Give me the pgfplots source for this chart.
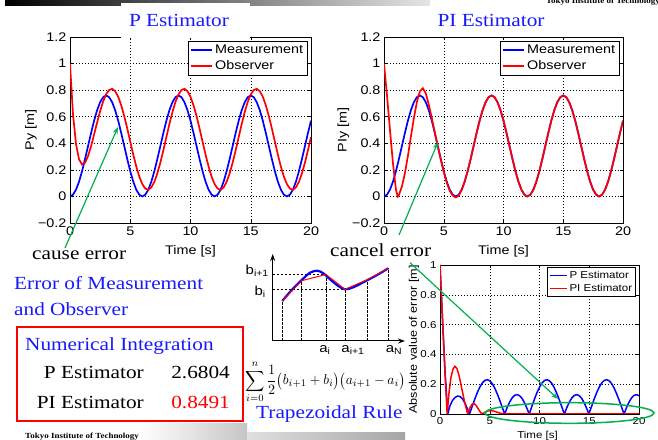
\documentclass[border=0pt]{standalone}
\usepackage{pgfplots}
\pgfplotsset{compat=1.18}
\usepackage{pgfplotstable}
\usepackage{fontspec}
\setmainfont{Liberation Serif}[FakeStretch=1.15]
\setsansfont{Liberation Sans}[FakeStretch=1.15]
\usetikzlibrary{arrows.meta}
\definecolor{mblue}{RGB}{0,0,255}
\definecolor{mred}{RGB}{255,0,0}
\definecolor{agreen}{RGB}{0,176,80}
\definecolor{tblue}{RGB}{25,25,255}
\newcommand{\axf}{\sffamily\fontsize{12.5bp}{13bp}\selectfont}
\newcommand{\axs}{\sffamily\fontsize{10bp}{11bp}\selectfont}
\newcommand{\slf}{\rmfamily\fontsize{18.5bp}{20bp}\selectfont}

\pgfplotstableread{
t m oP
0.00 0.000 1.000
0.25 0.013 0.617
0.50 0.051 0.393
0.75 0.111 0.279
1.00 0.190 0.240
1.25 0.282 0.254
1.50 0.380 0.304
1.75 0.478 0.378
2.00 0.570 0.466
2.25 0.649 0.556
2.50 0.709 0.642
2.75 0.747 0.715
3.00 0.760 0.770
3.25 0.747 0.801
3.50 0.709 0.810
3.75 0.649 0.792
4.00 0.570 0.750
4.25 0.478 0.686
4.50 0.380 0.605
4.75 0.282 0.512
5.00 0.190 0.413
5.25 0.111 0.315
5.50 0.051 0.225
5.75 0.013 0.149
6.00 0.000 0.093
6.25 0.013 0.059
6.50 0.051 0.050
6.75 0.111 0.068
7.00 0.190 0.110
7.25 0.282 0.174
7.50 0.380 0.255
7.75 0.478 0.348
8.00 0.570 0.447
8.25 0.649 0.545
8.50 0.709 0.635
8.75 0.747 0.711
9.00 0.760 0.767
9.25 0.747 0.801
9.50 0.709 0.810
9.75 0.649 0.792
10.00 0.570 0.750
10.25 0.478 0.686
10.50 0.380 0.605
10.75 0.282 0.512
11.00 0.190 0.413
11.25 0.111 0.315
11.50 0.051 0.225
11.75 0.013 0.149
12.00 0.000 0.093
12.25 0.013 0.059
12.50 0.051 0.050
12.75 0.111 0.068
13.00 0.190 0.110
13.25 0.282 0.174
13.50 0.380 0.255
13.75 0.478 0.348
14.00 0.570 0.447
14.25 0.649 0.545
14.50 0.709 0.635
14.75 0.747 0.711
15.00 0.760 0.767
15.25 0.747 0.801
15.50 0.709 0.810
15.75 0.649 0.792
16.00 0.570 0.750
16.25 0.478 0.686
16.50 0.380 0.605
16.75 0.282 0.512
17.00 0.190 0.413
17.25 0.111 0.315
17.50 0.051 0.225
17.75 0.013 0.149
18.00 0.000 0.093
18.25 0.013 0.059
18.50 0.051 0.050
18.75 0.111 0.068
19.00 0.190 0.110
19.25 0.282 0.174
19.50 0.380 0.255
19.75 0.478 0.348
20.00 0.570 0.447
}\tabP

\pgfplotstableread{
t y
0 1.000
0.25 0.760
0.5 0.500
0.75 0.250
1.0 0.050
1.15 0.000
1.25 0.012
1.5 0.075
1.75 0.175
2.0 0.305
2.25 0.450
2.5 0.590
2.75 0.710
3.0 0.790
3.25 0.815
3.5 0.775
3.75 0.690
4.0 0.590
4.25 0.482
4.5 0.378
4.75 0.278
5.0 0.184
5.25 0.104
5.5 0.042
5.75 0.006
6.0 -0.008
6.25 0.006
6.5 0.048
6.75 0.111
7.0 0.190
7.25 0.282
7.5 0.380
7.75 0.478
8.0 0.570
8.25 0.649
8.5 0.709
8.75 0.747
9.0 0.760
9.25 0.747
9.5 0.709
9.75 0.649
10.0 0.570
10.25 0.478
10.5 0.380
10.75 0.282
11.0 0.190
11.25 0.111
11.5 0.051
11.75 0.013
12.0 0.000
12.25 0.013
12.5 0.051
12.75 0.111
13.0 0.190
13.25 0.282
13.5 0.380
13.75 0.478
14.0 0.570
14.25 0.649
14.5 0.709
14.75 0.747
15.0 0.760
15.25 0.747
15.5 0.709
15.75 0.649
16.0 0.570
16.25 0.478
16.5 0.380
16.75 0.282
17.0 0.190
17.25 0.111
17.5 0.051
17.75 0.013
18.0 0.000
18.25 0.013
18.5 0.051
18.75 0.111
19.0 0.190
19.25 0.282
19.5 0.380
19.75 0.478
20.0 0.570
}\tabPI

\pgfplotstableread{
t e
0 1.000
0.25 0.640
0.5 0.290
0.78 0.000
1.0 0.055
1.25 0.090
1.5 0.110
1.75 0.120
2.0 0.118
2.25 0.102
2.5 0.074
2.75 0.036
2.96 0.000
3.0 0.007
3.25 0.054
3.5 0.101
3.75 0.144
4.0 0.180
4.25 0.208
4.5 0.225
4.75 0.230
5.0 0.223
5.25 0.204
5.5 0.174
5.75 0.136
6.0 0.093
6.25 0.046
6.5 0.000
6.75 0.044
7.0 0.080
7.25 0.108
7.5 0.125
7.75 0.130
8.0 0.123
8.25 0.104
8.5 0.074
8.75 0.036
8.96 0.000
9.0 0.007
9.25 0.054
9.5 0.101
9.75 0.144
10.0 0.180
10.25 0.208
10.5 0.225
10.75 0.230
11.0 0.223
11.25 0.204
11.5 0.174
11.75 0.136
12.0 0.093
12.25 0.046
12.5 0.000
12.75 0.044
13.0 0.080
13.25 0.108
13.5 0.125
13.75 0.130
14.0 0.123
14.25 0.104
14.5 0.074
14.75 0.036
14.96 0.000
15.0 0.007
15.25 0.054
15.5 0.101
15.75 0.144
16.0 0.180
16.25 0.208
16.5 0.225
16.75 0.230
17.0 0.223
17.25 0.204
17.5 0.174
17.75 0.136
18.0 0.093
18.25 0.046
18.5 0.000
18.75 0.044
19.0 0.080
19.25 0.108
19.5 0.125
19.75 0.130
20.0 0.123
}\tabEP

\pgfplotstableread{
t e
0 1.000
0.25 0.640
0.5 0.280
0.72 0.000
0.9 0.140
1.1 0.245
1.3 0.300
1.5 0.320
1.7 0.305
1.9 0.262
2.1 0.200
2.3 0.135
2.5 0.072
2.7 0.020
2.8 0.000
3.0 0.040
3.2 0.064
3.4 0.070
3.6 0.060
3.8 0.040
4.0 0.018
4.2 0.000
4.5 0.012
4.8 0.020
5.1 0.023
5.4 0.020
5.7 0.013
6.0 0.006
6.5 0.000
20 0.000
}\tabEPI

\pgfplotsset{
  mstyle/.style={
    scale only axis, xmin=0, xmax=20, clip=true,
    grid=major,
    major grid style={black, line width=0.5bp, dash pattern=on 1bp off 2bp},
    axis line style={black, line width=0.7bp},
    tick align=inside, major tick length=3bp,
    tick style={black, line width=0.5bp},
    xtick={0,5,10,15,20}, xticklabels={0,5,10,15,20},
    legend cell align=left,
  },
}

\begin{document}
\begin{tikzpicture}
\useasboundingbox (0bp,0bp) rectangle (658bp,440bp);
\fill[white] (0bp,0bp) rectangle (658bp,440bp);
\begin{scope}[x=1bp,y=1bp]
\shade[left color=black, right color=gray!20] (5,434) rectangle (430,440);
\node[anchor=base east, font=\rmfamily\bfseries\fontsize{7.8bp}{8bp}\selectfont, inner sep=0] at (660,436) {Tokyo Institute of Technology};
\end{scope}

% ---------- P estimator ----------
\begin{axis}[mstyle, at={(70bp,217bp)}, anchor=south west, width=241bp, height=186bp,
  ymin=-0.2, ymax=1.2, ytick={-0.2,0,0.2,0.4,0.6,0.8,1,1.2},
  yticklabels={−0.2,0,0.2,0.4,0.6,0.8,1,1.2},
  tick label style={font=\axf},
  xlabel={Time [s]}, ylabel={Py [m]},
  label style={font=\axf},
  xlabel style={at={(axis description cs:0.5,-0.15)}, anchor=center},
  ylabel style={at={(axis description cs:-0.162,0.5)}, anchor=center},
  legend image code/.code={\draw[#1] (0bp,0bp) -- (21bp,0bp);},
  legend style={at={(0.985,0.98)}, anchor=north east, draw=black, line width=0.7bp,
    font=\axf, inner sep=2bp, row sep=1.5bp},
  ]
\addplot[mblue, line width=1.7bp] table[x=t, y=m] {\tabP};
\addlegendentry{Measurement}
\addplot[mred, line width=1.7bp] table[x=t, y=oP] {\tabP};
\addlegendentry{Observer}
\end{axis}

% ---------- PI estimator ----------
\begin{axis}[mstyle, at={(384bp,217bp)}, anchor=south west, width=239bp, height=186bp,
  ymin=-0.2, ymax=1.2, ytick={-0.2,0,0.2,0.4,0.6,0.8,1,1.2},
  yticklabels={−0.2,0,0.2,0.4,0.6,0.8,1,1.2},
  tick label style={font=\axf},
  xlabel={Time [s]}, ylabel={PIy [m]},
  label style={font=\axf},
  xlabel style={at={(axis description cs:0.5,-0.15)}, anchor=center},
  ylabel style={at={(axis description cs:-0.17,0.5)}, anchor=center},
  legend image code/.code={\draw[#1] (0bp,0bp) -- (21bp,0bp);},
  legend style={at={(0.985,0.98)}, anchor=north east, draw=black, line width=0.7bp,
    font=\axf, inner sep=2bp, row sep=1.5bp},
  ]
\addplot[mblue, line width=1.7bp] table[x=t, y=m] {\tabP};
\addlegendentry{Measurement}
\addplot[mred, line width=1.7bp] table[x=t, y=y] {\tabPI};
\addlegendentry{Observer}
\end{axis}

% ---------- absolute error ----------
\begin{axis}[mstyle, at={(440bp,26bp)}, anchor=south west, width=199bp, height=149bp,
  ymin=0, ymax=1, ytick={0,0.2,0.4,0.6,0.8,1},
  yticklabels={0,0.2,0.4,0.6,0.8,1},
  tick label style={font=\axs},
  xlabel={Time [s]}, ylabel={Absolute value of error [m]},
  xlabel style={font=\axs, at={(axis description cs:0.49,-0.148)}, anchor=center},
  ylabel style={font=\sffamily\fontsize{11bp}{12bp}\selectfont, at={(axis description cs:-0.13,0.5)}, anchor=center},
  axis line style={black, line width=0.9bp},
  legend image code/.code={\draw[#1, line width=1.5bp] (0bp,0bp) -- (17bp,0bp);},
  legend style={at={(0.985,0.985)}, anchor=north east, draw=black, line width=0.7bp,
    font=\axs, inner sep=1.5bp, row sep=0.5bp},
  ]
\addplot[mblue, line width=1.5bp] table[x=t, y=e] {\tabEP};
\addlegendentry{P Estimator}
\addplot[mred, line width=1.5bp] table[x=t, y=e] {\tabEPI};
\addlegendentry{PI Estimator}
\end{axis}

% ---------- trapezoid schematic ----------
\begin{axis}[scale only axis, at={(272.7bp,99bp)}, anchor=south west, width=132.3bp, height=87bp,
  xmin=272.7, xmax=405, ymin=99, ymax=186, axis lines=left, ticks=none, clip=false,
  axis line style={black, line width=1bp, -{Stealth[length=7bp,width=5bp]}}]
\addplot[black, line width=0.6bp, dash pattern=on 2.5bp off 1.5bp] coordinates {(282.3,99) (282.3,139)};
\addplot[black, line width=0.6bp, dash pattern=on 2.5bp off 1.5bp] coordinates {(301.7,99) (301.7,159.3)};
\addplot[black, line width=0.6bp, dash pattern=on 2.5bp off 1.5bp] coordinates {(326,99) (326,165.5)};
\addplot[black, line width=0.6bp, dash pattern=on 2.5bp off 1.5bp] coordinates {(345,99) (345,150.7)};
\addplot[black, line width=0.6bp, dash pattern=on 2.5bp off 1.5bp] coordinates {(367.7,99) (367.7,160.5)};
\addplot[black, line width=0.6bp, dash pattern=on 2.5bp off 1.5bp] coordinates {(388.3,99) (388.3,171.7)};
\addplot[black, line width=0.6bp, dash pattern=on 2.5bp off 1.5bp] coordinates {(272.7,165.5) (326,165.5)};
\addplot[black, line width=0.6bp, dash pattern=on 2.5bp off 1.5bp] coordinates {(272.7,150.7) (345,150.7)};
\addplot[mblue, line width=2.2bp, smooth] coordinates {(282.3,139) (291.7,150) (301,159.3) (310,167.3) (317.3,169.3) (323.3,166.7) (330,160.7) (338.3,154) (345,150.7) (353.3,152.7) (367.7,160) (378.3,165.7) (388.3,171.7)};
\addplot[mred, line width=1bp] coordinates {(282.3,139) (301.7,159.3) (326,165.5) (345,150.7) (367.7,160.5) (388.3,171.7)};
\end{axis}

\begin{scope}[x=1bp,y=1bp]
\begin{scope}[font=\sffamily\fontsize{13bp}{14bp}\selectfont]
\node[anchor=east, inner sep=1bp] at (270,169) {b\textsubscript{i+1}};
\node[anchor=east, inner sep=1bp] at (267,148) {b\textsubscript{i}};
\node[anchor=north, inner sep=1bp] at (325,96) {a\textsubscript{i}};
\node[anchor=north, inner sep=1bp] at (353,96) {a\textsubscript{i+1}};
\node[anchor=north, inner sep=1bp] at (394,96) {a\textsubscript{N}};
\end{scope}
\node[anchor=west, inner sep=0] at (245,58) {\resizebox*{160bp}{42bp}{$\displaystyle\sum_{i=0}^{n}\frac{1}{2}\big(b_{i+1}+b_{i}\big)\big(a_{i+1}-a_{i}\big)$}};

\fill[white] (121,401.5) rectangle (250,436.5);

\node[font=\slf, text=tblue] at (179,420) {P Estimator};
\node[font=\slf, text=tblue] at (491,420) {PI Estimator};

\node[anchor=base west, font=\slf, inner sep=0] at (32,181) {cause error};
\node[anchor=base west, font=\slf, inner sep=0] at (330,183.3) {cancel error};
\node[anchor=base west, font=\slf, text=tblue, inner sep=0] at (14,151) {Error of Measurement};
\node[anchor=base west, font=\slf, text=tblue, inner sep=0] at (14,125) {and Observer};
\draw[mred, line width=1.5bp] (17,113) rectangle (243,19);
\node[anchor=base west, font=\slf, text=tblue, inner sep=0] at (25,90) {Numerical Integration};
\node[anchor=base east, font=\slf, inner sep=0] at (144,61.7) {P Estimator};
\node[anchor=base east, font=\slf, inner sep=0] at (230,61.7) {2.6804};
\node[anchor=base east, font=\slf, inner sep=0] at (144,31.7) {PI Estimator};
\node[anchor=base east, font=\slf, text=mred, inner sep=0] at (230,31.7) {0.8491};
\node[anchor=base west, font=\slf, text=tblue, inner sep=0] at (256,22) {Trapezoidal Rule};

\draw[agreen, line width=1.2bp, -{Stealth[length=7bp,width=5bp]}] (65,192) -- (118,313);
\draw[agreen, line width=1.2bp, -{Stealth[length=7bp,width=5bp]}] (399,205) -- (438,298);
\draw[agreen, line width=1.2bp, -{Stealth[length=7bp,width=5bp]}] (410,177.3) -- (558,41);
\draw[agreen, line width=1.5bp] (569.5,27) ellipse [x radius=84.5, y radius=10.3];

\shade[left color=white, right color=gray!45] (140,0) rectangle (247,16);
\shade[left color=gray!25, right color=gray!70] (247,0) rectangle (405,8);
\node[anchor=base west, font=\rmfamily\bfseries\fontsize{7.8bp}{8bp}\selectfont, inner sep=0] at (25,1.5) {Tokyo Institute of Technology};
\end{scope}
\end{tikzpicture}
\end{document}
